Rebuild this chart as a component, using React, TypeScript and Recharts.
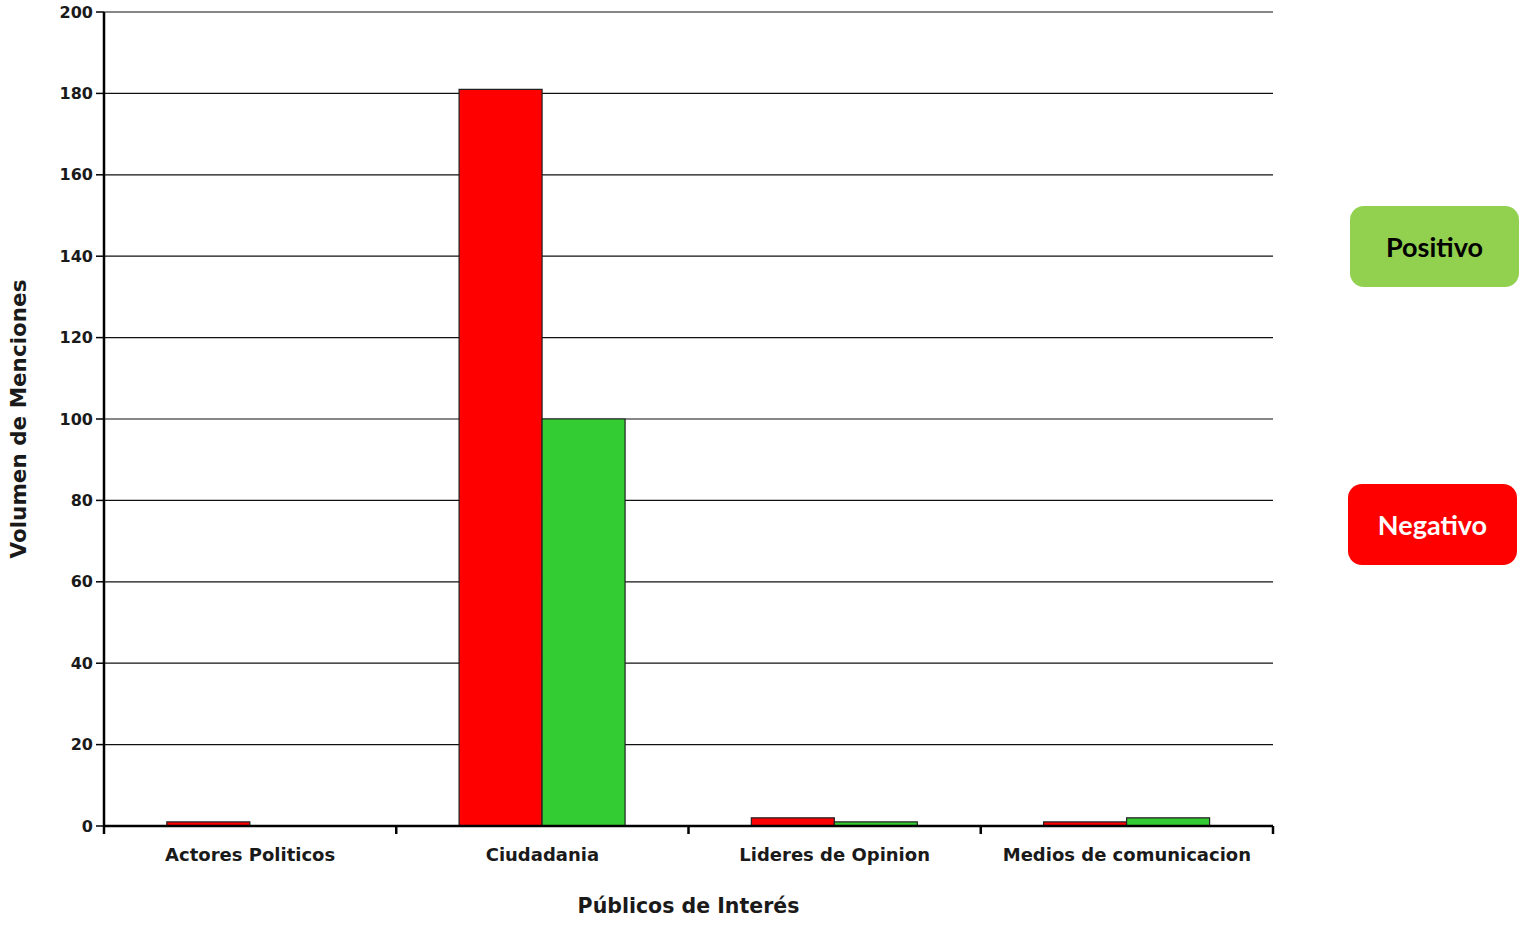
import React from 'react';
import { BarChart, Bar, XAxis, YAxis, CartesianGrid, Legend } from 'recharts';

const categories = ['Actores Politicos', 'Ciudadania', 'Lideres de Opinion', 'Medios de comunicacion'];
const negativo = [1, 181, 2, 1];
const positivo = [0, 100, 1, 2];
const yTicks = [0, 20, 40, 60, 80, 100, 120, 140, 160, 180, 200];

const data = categories.map((name, i) => ({ name, Negativo: negativo[i], Positivo: positivo[i] }));

const legendItems = [
  { label: 'Positivo', bg: '#92D050', fg: '#000', left: 10, top: 6 },
  { label: 'Negativo', bg: '#FF0000', fg: '#fff', left: 8, top: 284 },
];

const CategoryTick = (props: any) => {
  const { x, y, payload, index } = props;
  const half = payload && payload.offset ? payload.offset : 292.25 / 2;
  return (
    <g>
      <line x1={x - half} x2={x - half} y1={y - 8} y2={y} stroke="#000" strokeWidth={2.5} />
      {index === categories.length - 1 && (
        <line x1={x + half} x2={x + half} y1={y - 8} y2={y} stroke="#000" strokeWidth={2.5} />
      )}
      <text
        x={x}
        y={y + 20}
        textAnchor="middle"
        dominantBaseline="central"
        fontFamily="DejaVu Sans"
        fontWeight="bold"
        fontSize={18}
        fill="#1a1a1a"
      >
        {payload.value}
      </text>
    </g>
  );
};

const LegendBoxes = () => (
  <div style={{ position: 'relative', width: 180, height: 370 }}>
    {legendItems.map((it) => (
      <div
        key={it.label}
        style={{
          position: 'absolute',
          left: it.left,
          top: it.top,
          width: 169,
          height: 81,
          borderRadius: 14,
          background: it.bg,
          color: it.fg,
          fontFamily: 'Lato',
          fontWeight: 700,
          fontSize: 27,
          display: 'flex',
          alignItems: 'center',
          justifyContent: 'center',
        }}
      >
        {it.label}
      </div>
    ))}
  </div>
);

export default function App() {
  return (
    <div style={{ position: 'absolute', left: 0, top: 0, width: 1520, height: 929, background: '#fff' }}>
      <BarChart
        width={1520}
        height={929}
        data={data}
        margin={{ top: 12, right: 247, bottom: 43, left: 40 }}
        barCategoryGap="21.5%"
        barGap={0}
      >
        <CartesianGrid vertical={false} stroke="#111" strokeWidth={1.2} />
        <XAxis
          dataKey="name"
          height={60}
          tickSize={8}
          tickMargin={0}
          tickLine={false}
          axisLine={{ stroke: '#000', strokeWidth: 2.5 }}
          tick={<CategoryTick />}
          interval={0}
          label={{
            content: ({ viewBox }: any) => (
              <text
                x={viewBox.x + viewBox.width / 2}
                y={906}
                textAnchor="middle"
                dominantBaseline="central"
                fontFamily="DejaVu Sans"
                fontWeight="bold"
                fontSize={20.5}
                fill="#1a1a1a"
              >
                Públicos de Interés
              </text>
            ),
          }}
        />
        <YAxis
          width={64}
          domain={[0, 200]}
          ticks={yTicks}
          interval={0}
          tickSize={8}
          tickMargin={3}
          tickLine={{ stroke: '#000', strokeWidth: 1.5 }}
          axisLine={{ stroke: '#000', strokeWidth: 2.5 }}
          tick={{ fontFamily: 'DejaVu Sans', fontWeight: 'bold', fontSize: 16, fill: '#1a1a1a' }}
          label={{
            content: ({ viewBox }: any) => (
              <text
                x={18}
                y={viewBox.y + viewBox.height / 2}
                transform={`rotate(-90 18 ${viewBox.y + viewBox.height / 2})`}
                textAnchor="middle"
                dominantBaseline="central"
                fontFamily="DejaVu Sans"
                fontWeight="bold"
                fontSize={21.5}
                fill="#1a1a1a"
              >
                Volumen de Menciones
              </text>
            ),
          }}
        />
        <YAxis
          yAxisId="right"
          orientation="right"
          width={0}
          domain={[0, 200]}
          tick={false}
          tickLine={false}
          axisLine={{ stroke: '#000', strokeWidth: 1.5 }}
        />
        <Legend
          layout="horizontal"
          verticalAlign="middle"
          align="center"
          wrapperStyle={{ left: 1340, top: 200, width: 180, height: 370 }}
          content={<LegendBoxes />}
        />
        <Bar dataKey="Negativo" fill="#FF0000" stroke="#222" strokeWidth={1.2} isAnimationActive={false} />
        <Bar dataKey="Positivo" fill="#33CC33" stroke="#222" strokeWidth={1.2} isAnimationActive={false} />
      </BarChart>
    </div>
  );
}
